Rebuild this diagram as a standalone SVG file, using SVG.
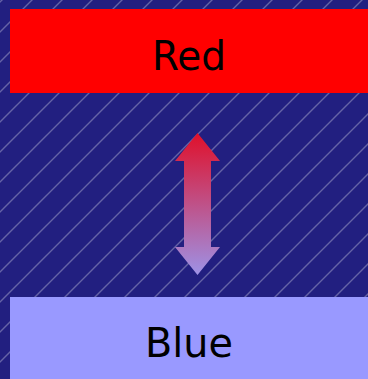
<svg xmlns="http://www.w3.org/2000/svg" width="368" height="379" viewBox="0 0 368 379">
  <style>
    .label { font-family: "Comic Sans MS", "DejaVu Sans", sans-serif; font-size: 40px; fill: #000; text-anchor: middle; }
  </style>
  <defs>
    <pattern id="stripes" patternUnits="userSpaceOnUse" x="2" y="0" width="30" height="30">
      <path d="M-5,5 L5,-5 M0,30 L30,0 M25,35 L35,25" stroke="#ffffff" stroke-opacity="0.3" stroke-width="1.4" fill="none"/>
    </pattern>
    <linearGradient id="arrowGrad" x1="0" y1="0" x2="0" y2="1">
      <stop offset="0" stop-color="#e0102a"/>
      <stop offset="1" stop-color="#9e92e6"/>
    </linearGradient>
  </defs>
  <rect x="0" y="0" width="368" height="379" fill="#221f80"/>
  <rect x="0" y="0" width="368" height="379" fill="url(#stripes)"/>
  <g id="node-red">
    <rect x="10" y="9" width="368" height="84" fill="#ff0000"/>
    <text class="label" x="189" y="70" textLength="74" lengthAdjust="spacingAndGlyphs">Red</text>
  </g>
  <g id="node-blue">
    <rect x="10" y="297" width="368" height="90" fill="#9999ff"/>
    <text class="label" x="189" y="357" textLength="88" lengthAdjust="spacingAndGlyphs">Blue</text>
  </g>
  <g id="connectors">
    <polygon points="197.5,133 220,161 211,161 211,247 220,247 197.5,275 175,247 184,247 184,161 175,161" fill="url(#arrowGrad)"/>
  </g>
</svg>
